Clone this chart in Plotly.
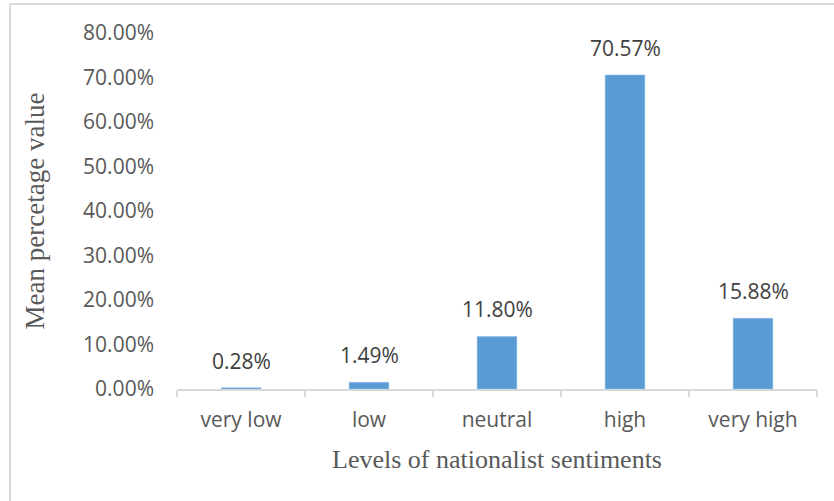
import plotly.graph_objects as go

categories = ["very low", "low", "neutral", "high", "very high"]
values = [0.28, 1.49, 11.80, 70.57, 15.88]
y_ticks = [0, 10, 20, 30, 40, 50, 60, 70, 80]

bar_color = "#5b9bd5"
text_color = "#595959"
grid_gray = "#d9d9d9"
sans = "Open Sans, Lato, sans-serif"
serif = "Liberation Serif, Times New Roman, serif"

fig = go.Figure()
fig.add_trace(go.Bar(
    x=categories, y=values, width=0.31,
    marker=dict(color=bar_color, line=dict(color="#8fbde6", width=0.5)),
    hoverinfo="skip",
))

for c, v in zip(categories, values):
    fig.add_annotation(x=c, y=v, text=f"{v:.2f}%", showarrow=False,
                       yanchor="bottom", yshift=11,
                       font=dict(family=sans, size=21, color="#404040"))

fig.update_layout(
    width=834, height=501,
    margin=dict(l=177, r=17, t=33, b=112),
    paper_bgcolor="white", plot_bgcolor="white",
    showlegend=False,
    xaxis=dict(
        type="category",
        showline=True, linecolor=grid_gray, linewidth=1.5,
        ticks="outside", tickson="boundaries", ticklen=6, tickcolor=grid_gray, tickwidth=1.5,
        tickfont=dict(family=sans, size=21, color=text_color),
        ticklabelstandoff=11,
        showgrid=False,
        title=dict(text="Levels of nationalist sentiments",
                   font=dict(family=serif, size=26, color=text_color), standoff=18),
        range=[-0.5, 4.5],
    ),
    yaxis=dict(
        range=[0, 80], tickvals=y_ticks,
        ticktext=[f"{t:.2f}%" for t in y_ticks],
        showgrid=False, zeroline=False, showline=False,
        tickfont=dict(family=sans, size=21, color=text_color),
        ticklabelstandoff=22,
        title=dict(text="Mean percetage value",
                   font=dict(family=serif, size=27, color=text_color), standoff=30),
    ),
)

# outer frame (top and left edges visible in the reference)
x0 = (10 - 177) / 640
y_top = (389 - 4) / 356
fig.add_shape(type="line", xref="paper", yref="paper", x0=x0, x1=(834 - 177) / 640,
              y0=y_top, y1=y_top, line=dict(color=grid_gray, width=2))
fig.add_shape(type="line", xref="paper", yref="paper", x0=x0, x1=x0,
              y0=y_top, y1=(389 - 501) / 356, line=dict(color=grid_gray, width=2))

fig.write_html("out.html")
